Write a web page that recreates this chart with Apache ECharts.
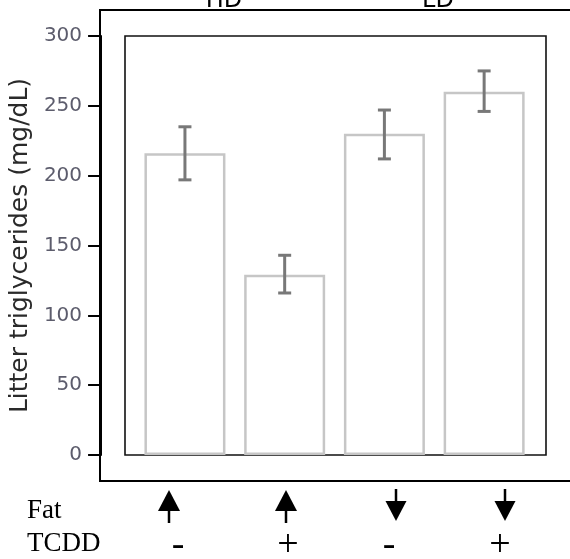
<!DOCTYPE html>
<html>
<head>
<meta charset="utf-8">
<script src="https://cdn.jsdelivr.net/npm/echarts@6/dist/echarts.min.js"></script>
<style>html,body{margin:0;padding:0;background:#fff}#c{width:570px;height:559px}</style>
</head>
<body>
<div id="c"></div>
<script>
// ---- data ----
const groups = ['HD / TCDD -', 'HD / TCDD +', 'LD / TCDD -', 'LD / TCDD +'];
const dietLabels = ['HD', 'LD'];
const fatDirection = ['up', 'up', 'down', 'down'];
const tcddSigns = ['-', '+', '-', '+'];
const meanTG = [216, 129, 230, 260];
const errLow = [197, 116, 212, 246];
const errHigh = [235, 143, 247, 275];
const yTicks = [0, 50, 100, 150, 200, 250, 300];

const chart = echarts.init(document.getElementById('c'), null, {renderer: 'canvas'});

const errData = groups.map((g, i) => [i, errLow[i], errHigh[i]]);

// annotation positions (pixel) for the hand-drawn row under the plot
const arrowX = [169, 286, 396, 505];
const signX = [178, 288, 389, 500];
const dietX = [224, 438];

const graphics = [];
// outer frame (extends beyond right edge)
graphics.push({type: 'rect', shape: {x: 100, y: 10, width: 520, height: 471},
  style: {fill: 'none', stroke: '#000', lineWidth: 2}, z: 1});
dietLabels.forEach((t, i) => graphics.push({type: 'text', x: dietX[i], y: 1,
  style: {text: t, fill: '#000', font: '24px "DejaVu Sans"', textAlign: 'center', textVerticalAlign: 'middle'}}));
graphics.push({type: 'text', x: 27, y: 511, style: {text: 'Fat', fill: '#000', font: '27px "Liberation Serif"', textAlign: 'left', textVerticalAlign: 'middle'}});
graphics.push({type: 'text', x: 27, y: 544, style: {text: 'TCDD', fill: '#000', font: '27px "Liberation Serif"', textAlign: 'left', textVerticalAlign: 'middle'}});
fatDirection.forEach((d, i) => {
  const cx = arrowX[i];
  if (d === 'up') {
    graphics.push({type: 'polygon', shape: {points: [[cx - 11, 511], [cx + 11, 511], [cx, 490]]}, style: {fill: '#000'}});
    graphics.push({type: 'line', shape: {x1: cx, y1: 510, x2: cx, y2: 523}, style: {stroke: '#000', lineWidth: 2.5}});
  } else {
    graphics.push({type: 'line', shape: {x1: cx, y1: 489, x2: cx, y2: 502}, style: {stroke: '#000', lineWidth: 2.5}});
    graphics.push({type: 'polygon', shape: {points: [[cx - 10.5, 501], [cx + 10.5, 501], [cx, 521]]}, style: {fill: '#000'}});
  }
});
tcddSigns.forEach((s, i) => graphics.push({type: 'text', x: signX[i], y: 546,
  style: {text: s, fill: '#000', font: '38px "Liberation Serif"', textAlign: 'center', textVerticalAlign: 'middle'}}));

const option = {
  animation: false,
  backgroundColor: '#fff',
  grid: [
    {left: 134, right: 36, top: 36, bottom: 104, show: false},
    {left: 125, right: 24, top: 36, bottom: 104, show: true, borderColor: '#111', borderWidth: 1.6, backgroundColor: 'transparent'}
  ],
  xAxis: [
    {type: 'category', gridIndex: 0, data: groups, boundaryGap: true,
     axisLine: {show: false}, axisTick: {show: false}, axisLabel: {show: false}, splitLine: {show: false}},
    {type: 'value', gridIndex: 1, show: false, min: 0, max: 1}
  ],
  yAxis: [
    {type: 'value', gridIndex: 0, min: yTicks[0], max: yTicks[yTicks.length - 1], interval: 50, offset: 34,
     name: 'Litter triglycerides (mg/dL)', nameLocation: 'middle', nameGap: 50,
     nameTextStyle: {fontFamily: 'DejaVu Sans', fontSize: 25, color: '#2a2a2a'},
     axisLine: {show: true, lineStyle: {color: '#000', width: 2}},
     axisTick: {show: true, length: 13, lineStyle: {color: '#000', width: 2}},
     axisLabel: {margin: 19, fontFamily: 'DejaVu Sans', fontSize: 20, color: '#5c5c6c'},
     splitLine: {show: false}},
    {type: 'value', gridIndex: 1, show: false, min: 0, max: 1}
  ],
  series: [
    {type: 'bar', xAxisIndex: 0, yAxisIndex: 0, data: meanTG, barWidth: 81,
     itemStyle: {color: '#fff', borderColor: '#c6c6c6', borderWidth: 2.5}},
    {type: 'custom', xAxisIndex: 0, yAxisIndex: 0, data: errData, z: 5,
     renderItem: function (params, api) {
       const x = api.value(0);
       const lo = api.coord([x, api.value(1)]);
       const hi = api.coord([x, api.value(2)]);
       const w = 6.5;
       const st = {stroke: '#787878', lineWidth: 3};
       return {type: 'group', children: [
         {type: 'line', shape: {x1: lo[0], y1: lo[1], x2: hi[0], y2: hi[1]}, style: st},
         {type: 'line', shape: {x1: hi[0] - w, y1: hi[1], x2: hi[0] + w, y2: hi[1]}, style: st},
         {type: 'line', shape: {x1: lo[0] - w, y1: lo[1], x2: lo[0] + w, y2: lo[1]}, style: st}
       ]};
     }}
  ],
  graphic: graphics
};
chart.setOption(option);
</script>
</body>
</html>
